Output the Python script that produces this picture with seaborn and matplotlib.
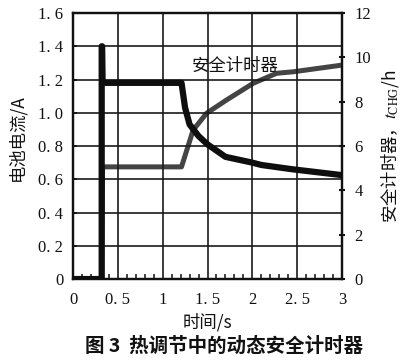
import matplotlib
matplotlib.use("Agg")
import matplotlib.pyplot as plt
import seaborn as sns
import pandas as pd
from matplotlib.ticker import MultipleLocator

# ---- data ----
t_current = [0.0, 0.32, 0.32, 0.325, 0.33, 1.21, 1.25, 1.30, 1.40, 1.50, 1.70, 2.00, 2.10, 2.45, 3.00]
current = [0.0, 0.0, 1.40, 1.40, 1.18, 1.18, 1.03, 0.93, 0.86, 0.81, 0.735, 0.70, 0.686, 0.66, 0.625]

t_timer = [0.0, 0.32, 0.33, 1.21, 1.34, 1.49, 1.71, 2.01, 2.27, 2.46, 3.00]
timer = [0.0, 0.0, 5.06, 5.06, 6.72, 7.48, 8.07, 8.83, 9.28, 9.35, 9.65]

x_ticks = [0, 0.5, 1, 1.5, 2, 2.5, 3]
x_labels = ["0", "0. 5", "1", "1. 5", "2", "2. 5", "3"]
yl_ticks = [0, 0.2, 0.4, 0.6, 0.8, 1.0, 1.2, 1.4, 1.6]
yl_labels = ["0", "0. 2", "0. 4", "0. 6", "0. 8", "1. 0", "1. 2", "1. 4", "1. 6"]
yr_ticks = [0, 2, 4, 6, 8, 10, 12]
yr_labels = ["0", "2", "4", "6", "8", "10", "12"]

sns.set_theme(style="white")
plt.rcParams["font.family"] = ["Liberation Serif", "Noto Sans CJK SC"]
plt.rcParams["mathtext.fontset"] = "stix"

df_c = pd.DataFrame({"t": t_current, "v": current})
df_t = pd.DataFrame({"t": t_timer, "v": timer})

fig = plt.figure(figsize=(4.0, 3.61), dpi=100)
ax = fig.add_axes([0.1825, 0.227, 0.6725, 0.737])
ax2 = ax.twinx()

sns.lineplot(data=df_t, x="t", y="v", ax=ax2, estimator=None, sort=False,
             color="#444444", lw=3.6, zorder=3)
sns.lineplot(data=df_c, x="t", y="v", ax=ax, estimator=None, sort=False,
             color="#0e0e0e", lw=4.5, zorder=4)
ax.set_zorder(ax2.get_zorder() + 1)
ax.patch.set_visible(False)

ax.set_xlim(0, 3)
ax.set_ylim(0, 1.6)
ax2.set_ylim(0, 12)

ax.set_xticks(x_ticks)
ax.set_xticklabels(x_labels)
ax.set_yticks(yl_ticks)
ax.set_yticklabels(yl_labels)
ax2.set_yticks(yr_ticks)
ax2.set_yticklabels(yr_labels)
ax.xaxis.set_minor_locator(MultipleLocator(0.1))

ax.grid(True, which="major", color="#1a1a1a", lw=1.2)
ax.tick_params(axis="y", which="major", labelsize=12, colors="#111111", direction="in",
               length=3, width=1.2, left=True, pad=7)
ax.tick_params(axis="x", which="major", labelsize=12, colors="#111111", direction="in", length=0, pad=9)
ax.tick_params(axis="x", which="minor", direction="in", length=3.5, width=1.2, colors="#222222", bottom=True)
ax2.tick_params(axis="y", labelsize=12, colors="#111111", direction="inout", length=4, width=1.5, pad=7)

for a in (ax, ax2):
    for s in a.spines.values():
        s.set_color("#111111")
        s.set_linewidth(1.6)

ax.set_xlabel("时间/s", fontsize=12.5, family=["Noto Sans CJK SC"], labelpad=4, color="#111111")
ax.set_ylabel("电池电流/A", fontsize=12.5, family=["Noto Sans CJK SC"], color="#111111")
ax.yaxis.set_label_coords(-0.175, 0.53)
ax2.set_ylabel("安全计时器，$t_{\\rm CHG}$/h", fontsize=12.5, family=["Noto Sans CJK SC", "DejaVu Sans"],
               labelpad=6, color="#111111", rotation=90)

ax.text(1.81, 1.28, "安全计时器", fontsize=12.5, family=["Noto Sans CJK SC"], color="#111111",
        ha="center", va="center", zorder=6)

fig.text(0.56, 0.04, "图 3  热调节中的动态安全计时器", fontsize=14, fontweight="bold",
         family=["Noto Sans CJK SC"], ha="center", va="center", color="#111111")

fig.savefig("out.png", dpi=100)
